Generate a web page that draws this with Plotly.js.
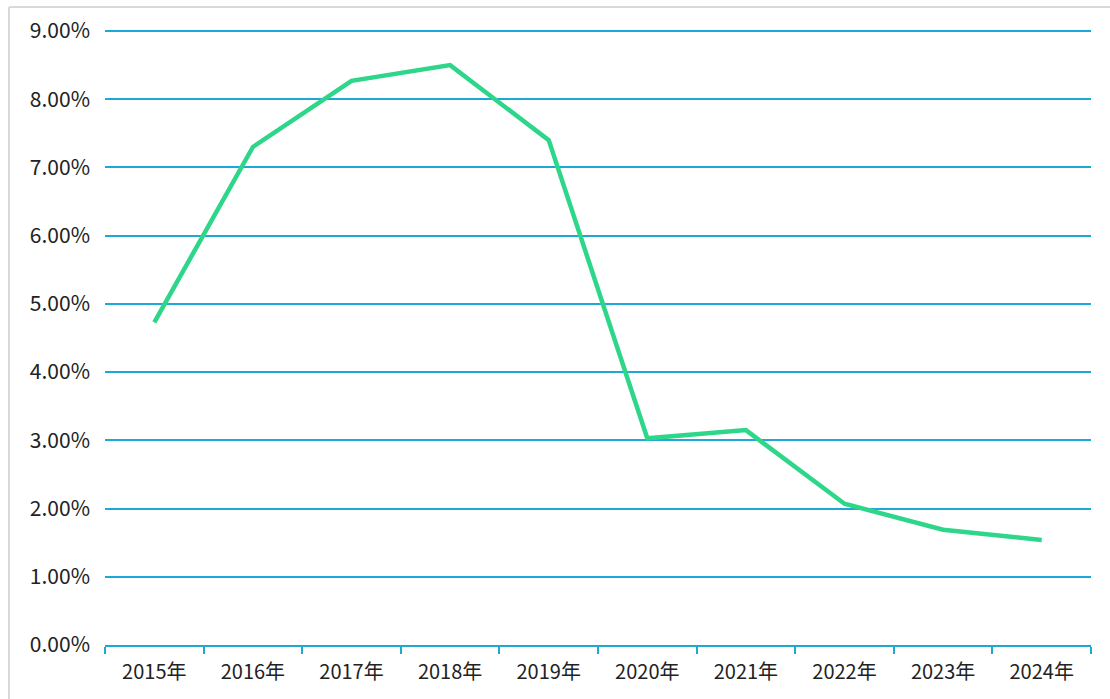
<!DOCTYPE html>
<html>
<head>
<meta charset="utf-8">
<script src="https://cdn.plot.ly/plotly-3.0.1.min.js"></script>
<style>
html,body{margin:0;padding:0;background:#fff;}
#chart{width:1110px;height:699px;}
</style>
</head>
<body>
<div id="chart"></div>
<script>
const years = ['2015年','2016年','2017年','2018年','2019年','2020年','2021年','2022年','2023年','2024年'];
const rates = [4.73, 7.30, 8.27, 8.50, 7.40, 3.03, 3.15, 2.07, 1.69, 1.54];
const yTickVals = [0, 1, 2, 3, 4, 5, 6, 7, 8, 9];

const W = 1110, H = 699;
const m = {l:105, r:19, t:26, b:54};
const pw = W - m.l - m.r, ph = H - m.t - m.b;
const px = x => (x - m.l) / pw;
const py = y => (H - m.b - y) / ph;
const yTop = 0.09 * (H - m.t - m.b) / (645 - 31);

const font = '"Noto Sans CJK SC", "Microsoft YaHei", sans-serif';
const grid = '#1ea8d8';

Plotly.newPlot('chart', [{
  x: years,
  y: rates.map(v => v / 100),
  type: 'scatter',
  mode: 'lines',
  line: {color: '#2ed68a', width: 4.5},
  hoverinfo: 'x+y'
}], {
  width: W, height: H,
  margin: m,
  paper_bgcolor: '#ffffff',
  plot_bgcolor: '#ffffff',
  showlegend: false,
  font: {family: font, size: 21, color: '#222'},
  xaxis: {
    type: 'category',
    range: [-0.5, years.length - 0.5],
    showgrid: false,
    showline: true, linecolor: grid, linewidth: 2,
    ticks: 'outside', tickson: 'boundaries', ticklen: 7, tickwidth: 2, tickcolor: grid,
    ticklabelstandoff: 8,
    tickfont: {family: font, size: 20, color: '#222'},
    zeroline: false,
    fixedrange: true
  },
  yaxis: {
    range: [0, yTop],
    tickvals: yTickVals.map(v => v / 100),
    ticktext: yTickVals.map(v => v.toFixed(2) + '%'),
    showgrid: true, gridcolor: grid, gridwidth: 2,
    zeroline: false,
    showline: false,
    ticks: '',
    ticklabelstandoff: 14,
    tickfont: {family: font, size: 21, color: '#222'},
    fixedrange: true
  },
  shapes: [
    {type: 'line', xref: 'paper', yref: 'paper', x0: px(9), x1: px(1120), y0: py(7), y1: py(7), line: {color: '#d9d9d9', width: 2}},
    {type: 'line', xref: 'paper', yref: 'paper', x0: px(9), x1: px(9), y0: py(7), y1: py(710), line: {color: '#d9d9d9', width: 2}}
  ]
}, {displayModeBar: false});
</script>
</body>
</html>
